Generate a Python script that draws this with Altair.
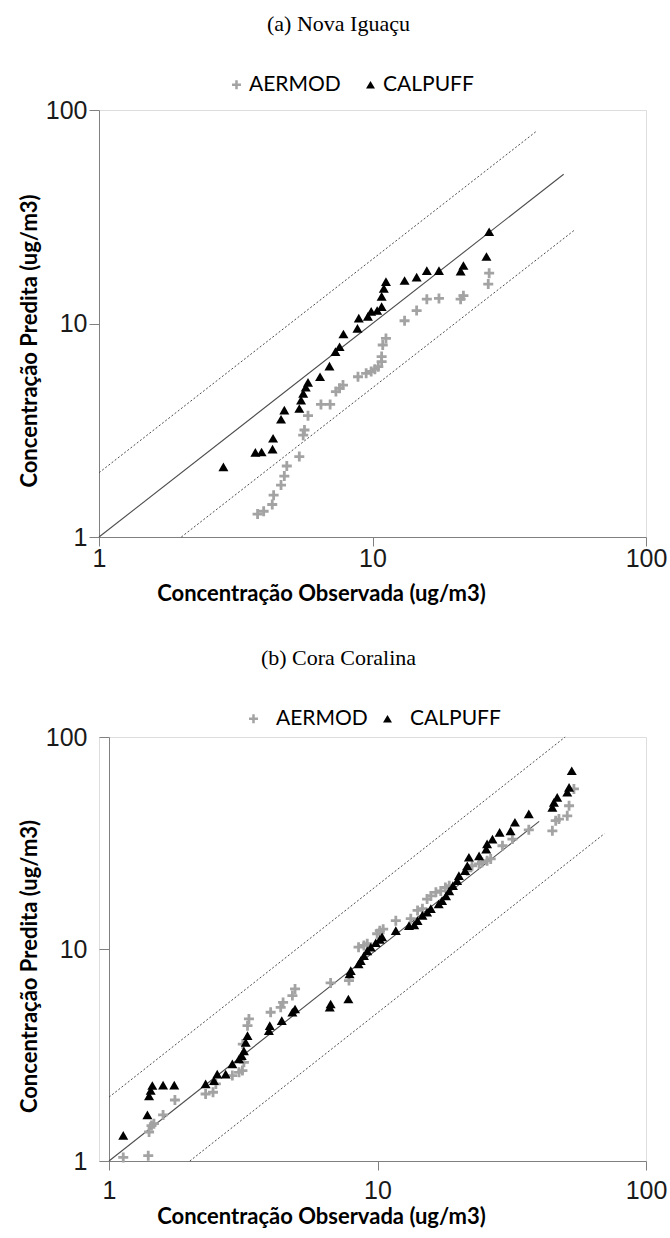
import altair as alt
import pandas as pd

# ---------------- data ----------------
MODELS = ["AERMOD", "CALPUFF"]

# Panel (a) Nova Iguaçu
a_aermod_obs = [3.8, 4.0, 4.3, 4.35, 4.63, 4.76, 4.86, 5.4, 5.58, 5.64, 5.81, 6.48, 7.0, 7.35, 7.58, 7.8,
                8.85, 9.48, 9.89, 10.2, 10.5, 10.8, 10.8, 10.9, 11.2, 13.1, 14.5, 15.8, 17.5, 21.0, 21.5, 26.5, 26.7]
a_aermod_pred = [1.28, 1.32, 1.42, 1.57, 1.75, 1.93, 2.15, 2.38, 3.0, 3.17, 3.7, 4.18, 4.18, 4.8, 4.97, 5.15,
                 5.63, 5.84, 5.96, 6.11, 6.28, 6.63, 7.0, 7.93, 8.51, 10.3, 11.5, 13.0, 13.1, 13.0, 13.5, 15.3, 17.2]
a_calpuff_obs = [2.85, 3.73, 3.93, 4.31, 4.33, 4.63, 4.76, 5.4, 5.48, 5.58, 5.7, 5.81, 6.43, 6.96, 7.32, 7.58,
                 7.83, 8.81, 8.91, 9.62, 9.89, 10.4, 10.8, 10.8, 11.0, 11.2, 13.1, 14.5, 15.8, 17.5, 21.0, 21.5, 26.1, 26.7]
a_calpuff_pred = [2.13, 2.49, 2.5, 2.58, 2.9, 3.56, 3.93, 4.0, 4.38, 4.71, 5.03, 5.3, 5.63, 6.32, 7.38, 7.78,
                  8.93, 9.49, 10.6, 10.8, 11.4, 11.5, 12.0, 13.4, 14.6, 15.7, 15.9, 16.5, 17.7, 17.7, 17.6, 18.7, 20.6, 26.9]
# reference lines of panel (a): 1:1, factor 2 above, factor 2 below
a_line_obs = {"solid": [1, 50], "upper": [1, 40], "lower": [2, 55]}
a_line_pred = {"solid": [1, 50], "upper": [2, 80], "lower": [1, 27.5]}

# Panel (b) Cora Coralina
b_aermod_obs = [1.13, 1.4, 1.41, 1.44, 1.47, 1.59, 1.76, 2.29, 2.44, 2.5, 2.88, 3.05, 3.14, 3.18, 3.15, 3.28, 3.32,
                4.0, 4.36, 4.45, 4.82, 4.93, 6.69, 7.83, 8.5, 8.9, 9.16, 9.97, 10.2, 10.5, 11.7, 13.3, 14.1, 14.7,
                15.3, 15.8, 16.5, 17.2, 17.9, 18.5, 21.6, 22.5, 23.9, 24.5, 25.6, 26.4, 29.2, 31.8, 36.6, 44.8,
                46.1, 47.4, 50.9, 51.7, 53.9]
b_aermod_pred = [1.04, 1.06, 1.37, 1.47, 1.5, 1.65, 1.94, 2.07, 2.11, 2.31, 2.53, 2.62, 2.67, 2.92, 3.56, 4.35, 4.68,
                 5.03, 5.31, 5.6, 6.03, 6.48, 6.92, 7.1, 10.2, 10.4, 10.6, 11.8, 12.2, 12.4, 13.6, 13.9, 15.2, 15.5,
                 17.2, 17.8, 18.5, 18.8, 19.5, 19.9, 23.4, 24.7, 25.2, 25.6, 26.1, 26.6, 30.7, 33.0, 36.5, 36.1,
                 40.3, 41.0, 42.5, 47.4, 56.9]
b_calpuff_obs = [1.13, 1.39, 1.41, 1.43, 1.45, 1.59, 1.75, 2.29, 2.46, 2.53, 2.72, 2.88, 3.05, 3.12, 3.18, 3.23, 3.28,
                 3.94, 3.97, 4.4, 4.82, 4.93, 6.64, 6.69, 7.79, 7.87, 7.95, 8.5, 8.66, 8.9, 9.16, 9.44, 9.85, 10.2,
                 10.4, 11.7, 13.1, 13.7, 14.1, 14.7, 15.3, 15.8, 16.9, 17.4, 18.0, 18.5, 19.1, 19.8, 20.1, 21.2,
                 21.6, 21.9, 23.9, 25.4, 25.6, 26.8, 28.5, 31.3, 32.5, 36.6, 44.8, 45.4, 46.7, 50.9, 51.7, 52.9]
b_calpuff_pred = [1.32, 1.65, 2.03, 2.15, 2.27, 2.28, 2.28, 2.31, 2.39, 2.57, 2.57, 2.87, 3.03, 3.14, 3.31, 3.63, 3.9,
                  4.12, 4.35, 4.59, 5.03, 5.21, 5.31, 5.5, 5.81, 7.62, 7.9, 8.5, 8.81, 9.29, 9.8, 10.2, 10.7, 11.1,
                  11.4, 12.2, 12.9, 13.0, 13.6, 14.4, 14.9, 15.5, 16.3, 16.9, 17.8, 18.8, 19.9, 21.0, 22.2, 23.4,
                  24.7, 27.1, 27.5, 29.6, 31.3, 33.0, 35.5, 36.1, 39.6, 43.4, 46.6, 49.2, 51.9, 54.9, 57.9, 69.3]
b_line_obs = {"solid": [1, 40], "upper": [1, 50], "lower": [2, 70]}
b_line_pred = {"solid": [1, 40], "upper": [2, 100], "lower": [1, 35]}

AXIS_TICKS = [1, 10, 100]
TITLE_A = "(a) Nova Iguaçu"
TITLE_B = "(b) Cora Coralina"
X_TITLE = "Concentração Observada (ug/m3)"
Y_TITLE = "Concentração Predita (ug/m3)"

PLUS = ("M-1,-0.28L-0.28,-0.28L-0.28,-1L0.28,-1L0.28,-0.28L1,-0.28L1,0.28L0.28,0.28"
        "L0.28,1L-0.28,1L-0.28,0.28L-1,0.28Z")
SANS = "Lato"
W = 547


def panel(title, ao, ap, co, cp, lo, lp, height, left_shift, legend_x, legend_y,
          y_label_pad, x_label_pad, x_title_pad, title_offset, label_offset, col_pad):
    pts = pd.DataFrame({
        "obs": ao + co,
        "pred": ap + cp,
        "modelo": [MODELS[0]] * len(ao) + [MODELS[1]] * len(co),
    })
    rows = []
    for k in ["solid", "upper", "lower"]:
        for o, p in zip(lo[k], lp[k]):
            rows.append({"obs": o, "pred": p, "kind": k})
    lines = pd.DataFrame(rows)

    xs = alt.Scale(type="log", domain=[1, 100], nice=False, range=[left_shift, W])
    ys = alt.Scale(type="log", domain=[1, 100], nice=False)
    xaxis = alt.Axis(values=AXIS_TICKS, format="d", grid=False, title=X_TITLE,
                     domainColor="#808080", tickColor="#808080", tickSize=9,
                     labelFont="Liberation Sans", labelFontSize=25, labelColor="#1a1a1a",
                     labelPadding=x_label_pad, titleFont=SANS, titleFontSize=22, titleFontWeight="bold",
                     titleColor="black", titlePadding=x_title_pad, labelFlush=False, titleX=222)
    yaxis = alt.Axis(values=AXIS_TICKS, format="d", grid=False, title=Y_TITLE,
                     domainColor="#808080", tickColor="#808080", tickSize=10,
                     labelFont="Liberation Sans", labelFontSize=25, labelColor="#1a1a1a",
                     labelPadding=y_label_pad, titleFont=SANS, titleFontSize=22, titleFontWeight="bold",
                     titleColor="black", titlePadding=4, offset=-left_shift,
                     titleY=height / 2 + 17)

    solid = alt.Chart(lines).transform_filter(alt.datum.kind == "solid").mark_line(
        color="#4d4d4d", strokeWidth=1.1).encode(
        x=alt.X("obs:Q", scale=xs, axis=xaxis),
        y=alt.Y("pred:Q", scale=ys, axis=yaxis),
    )
    dotted = alt.Chart(lines).transform_filter(alt.datum.kind != "solid").mark_line(
        color="#4d4d4d", strokeWidth=1.0, strokeDash=[2, 2]).encode(
        x=alt.X("obs:Q", scale=xs),
        y=alt.Y("pred:Q", scale=ys),
        detail="kind:N",
    )
    points = alt.Chart(pts).mark_point(filled=True, opacity=1, size=100).encode(
        x=alt.X("obs:Q", scale=xs),
        y=alt.Y("pred:Q", scale=ys),
        color=alt.Color("modelo:N", scale=alt.Scale(domain=MODELS, range=["#a3a3a3", "#000000"]),
                        legend=alt.Legend(orient="none", legendX=legend_x, legendY=legend_y,
                                          direction="horizontal", title=None, labelFont=SANS,
                                          labelFontSize=21, labelColor="black", symbolSize=80,
                                          labelOffset=label_offset, columnPadding=col_pad,
                                          symbolStrokeWidth=0)),
        shape=alt.Shape("modelo:N", scale=alt.Scale(domain=MODELS, range=[PLUS, "triangle-up"])),
        order=alt.Order("modelo:N", sort="ascending"),
    )
    return alt.layer(solid, dotted, points).properties(
        width=W, height=height,
        title=alt.TitleParams(title, font="Liberation Serif", fontSize=22, fontWeight="normal",
                              color="black", anchor="middle", frame="group", dx=-34,
                              offset=title_offset),
    )


pa = panel(TITLE_A, a_aermod_obs, a_aermod_pred, a_calpuff_obs, a_calpuff_pred,
           a_line_obs, a_line_pred, 427, 0, 127, -36, 2, 0, 12, 38, 2, 19)
pb = panel(TITLE_B, b_aermod_obs, b_aermod_pred, b_calpuff_obs, b_calpuff_pred,
           b_line_obs, b_line_pred, 424, 10, 144, -29, 12, 8, 3, 38, 12, 9)

chart = alt.concat(pa, pb, columns=1, spacing=41).resolve_scale(
    x="independent", y="independent", color="independent", shape="independent"
).resolve_legend(color="independent", shape="independent").properties(
    padding={"left": 17, "top": 12, "right": 0, "bottom": 0},
).configure_view(stroke=None).configure(background="white")

chart.save("out.html", embed_options={"renderer": "svg", "actions": False})
